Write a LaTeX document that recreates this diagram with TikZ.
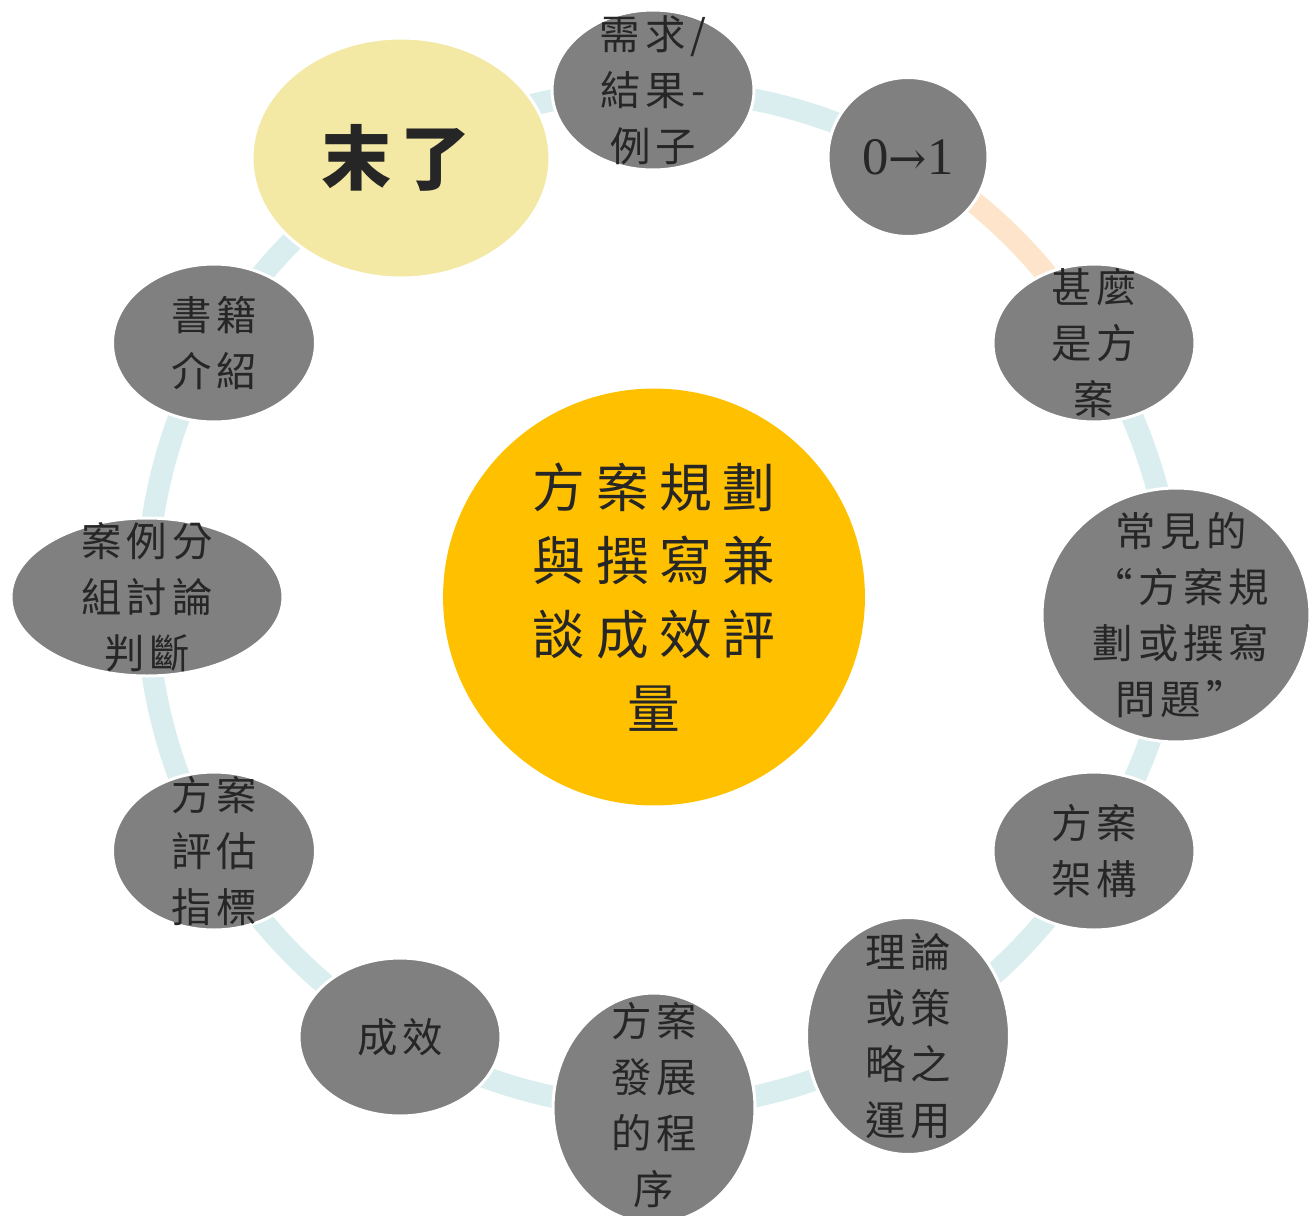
\documentclass[tikz,border=0pt]{standalone}
\usepackage{fontspec}
\setmainfont{Noto Sans CJK TC}
\newfontfamily\cjkwide{Noto Sans CJK TC}[LetterSpace=12]
\newfontfamily\cjkhub{Noto Sans CJK TC}[LetterSpace=20]
\newfontfamily\digitfont{Liberation Serif}
\newfontfamily\arrowfont{DejaVu Serif}
\usetikzlibrary{positioning,shapes.geometric,backgrounds}
\definecolor{bubblegray}{HTML}{808080}
\definecolor{hubgold}{HTML}{FFC000}
\definecolor{endyellow}{HTML}{F3E9A5}
\definecolor{ringcyan}{HTML}{DAEEF0}
\definecolor{ringorange}{HTML}{FDE4CA}
\definecolor{inktext}{HTML}{262626}

\begin{document}
\begin{tikzpicture}[x=0.02cm, y=0.02cm,
    bubble/.style={ellipse, fill=bubblegray, draw=white, line width=1.7pt, inner sep=0pt},
    bubbletext/.style={text=inktext, align=center, inner sep=0pt,
      font=\cjkwide\fontsize{23}{32}\selectfont},
    ring/.style={line width=0.44cm, draw=ringcyan, bend left=15, looseness=0.87}]
    \useasboundingbox (0,0) rectangle (1309,-1215);

    % centre
    \node[ellipse, fill=hubgold, inner sep=0pt, minimum width=8.44cm,
      minimum height=8.34cm] (hub) at (654,-597) {};
    \node[text=inktext, align=center, inner sep=0pt,
      font=\cjkhub\fontsize{30}{42}\selectfont] (hubtxt) at (hub) 
      {方案規劃\\與撰寫兼\\談成效評\\量};

    % ring of topics, clockwise from the top
    \node[bubble, minimum width=4.04cm, minimum height=3.2cm]  (need)      at (653,-90)   {};
    \node[bubble, minimum width=3.2cm,  minimum height=3.18cm] (zero)      at (908,-157)  {};
    \node[bubble, minimum width=4.04cm, minimum height=3.16cm] (what)      at (1094,-343) {};
    \node[bubble, minimum width=5.36cm, minimum height=5.08cm] (common)    at (1176,-615) {};
    \node[bubble, minimum width=4.04cm, minimum height=3.16cm] (frame)     at (1094,-851) {};
    \node[bubble, minimum width=4.06cm, minimum height=4.74cm] (theory)    at (908,-1036) {};
    \node[bubble, minimum width=4.04cm, minimum height=4.6cm]  (develop)   at (654,-1108) {};
    \node[bubble, minimum width=4.04cm, minimum height=3.16cm] (effect)    at (400,-1037) {};
    \node[bubble, minimum width=4.06cm, minimum height=3.16cm] (indicator) at (214,-851)  {};
    \node[bubble, minimum width=5.44cm, minimum height=3.16cm] (cases)     at (147,-597)  {};
    \node[bubble, minimum width=4.06cm, minimum height=3.16cm] (books)     at (214,-343)  {};
    \node[ellipse, fill=endyellow, draw=white, line width=1.7pt, inner sep=0pt,
      minimum width=5.96cm, minimum height=4.8cm] (ending) at (401,-158) {};

    \node[bubbletext] (needtxt)      at (need)             {需求/\\結果-\\例子};
    \node[text=inktext, inner sep=0pt, font=\digitfont\fontsize{30}{32}\selectfont]
      (zerotxt) at (zero) {0{\arrowfont\fontsize{26}{30}\selectfont →}1};
    \node[bubbletext] (whattxt)      at (what)             {甚麼\\是方\\案};
    \node[bubbletext] (commontxt)    at ([xshift=0.1cm]common) {常見的\\“方案規\\劃或撰寫\\問題”};
    \node[bubbletext] (frametxt)     at (frame)            {方案\\架構};
    \node[bubbletext] (theorytxt)    at (theory)           {理論\\或策\\略之\\運用};
    \node[bubbletext] (developtxt)   at (654,-1105)        {方案\\發展\\的程\\序};
    \node[bubbletext] (effecttxt)    at (effect)           {成效};
    \node[bubbletext] (indicatortxt) at (indicator)        {方案\\評估\\指標};
    \node[bubbletext] (casestxt)     at (cases)            {案例分\\組討論\\判斷};
    \node[bubbletext] (bookstxt)     at (books)            {書籍\\介紹};
    \node[text=inktext, inner sep=0pt, font=\bfseries\fontsize{40}{48}\selectfont]
      (endingtxt) at ([xshift=-0.1cm]ending) {末\hspace{5pt}了};

    % ring segments behind the bubbles
    \begin{pgfonlayer}{background}
      \foreach \from/\to in {need/zero, what/common, common/frame, frame/theory,
          theory/develop, develop/effect, effect/indicator, indicator/cases,
          cases/books, books/ending, ending/need}
        \draw[ring] (\from.center) to (\to.center);
      \draw[ring, draw=ringorange] (zero.center) to (what.center);
    \end{pgfonlayer}
\end{tikzpicture}
\end{document}
